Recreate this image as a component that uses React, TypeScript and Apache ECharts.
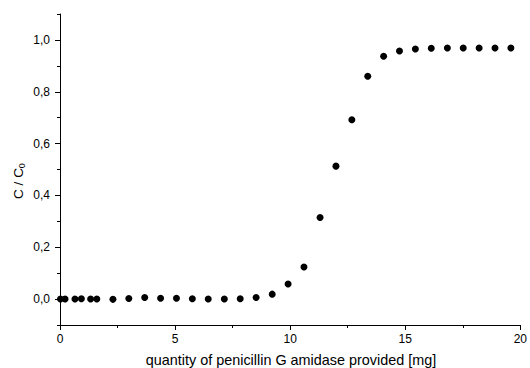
import React, { useEffect, useRef } from "react";
import * as echarts from "echarts";

const xValues = [
  0.02, 0.22, 0.65, 0.93, 1.33, 1.6, 2.3, 2.99, 3.68, 4.37, 5.06, 5.75, 6.44, 7.14, 7.83, 8.52,
  9.22, 9.91, 10.6, 11.3, 11.99, 12.68, 13.37, 14.06, 14.75, 15.44, 16.13, 16.83, 17.52, 18.21,
  18.9, 19.59,
];
const yValues = [
  0.0, 0.0, 0.0, 0.001, 0.0, 0.0, -0.001, 0.002, 0.006, 0.003, 0.003, 0.001, 0.0, 0.0, 0.001,
  0.006, 0.019, 0.058, 0.124, 0.315, 0.513, 0.692, 0.86, 0.937, 0.957, 0.965, 0.968, 0.969, 0.969,
  0.969, 0.969, 0.969,
];
const xTickValues = [0, 5, 10, 15, 20];
const yTickValues = [0, 0.2, 0.4, 0.6, 0.8, 1.0];
const yMinorTickValues = [-0.1, 0.1, 0.3, 0.5, 0.7, 0.9, 1.1];
const xTitle = "quantity of penicillin G amidase provided [mg]";

const FONT = "'Liberation Sans', Arial, sans-serif";

export default function App() {
  const ref = useRef<HTMLDivElement>(null);
  useEffect(() => {
    if (!ref.current) return;
    const chart = echarts.init(ref.current, undefined, { renderer: "svg" });
    chart.setOption({
      animation: false,
      backgroundColor: "#ffffff",
      textStyle: { fontFamily: FONT },
      grid: { left: 60, right: 7, top: 14, bottom: 43, containLabel: false },
      xAxis: {
        type: "value",
        min: 0,
        max: 20,
        interval: 5,
        axisLine: { show: true, onZero: false, lineStyle: { color: "#000", width: 1 } },
        axisTick: { show: true, inside: false, length: 5, lineStyle: { color: "#000" } },
        minorTick: { show: true, splitNumber: 2, length: 3, lineStyle: { color: "#000" } },
        axisLabel: {
          show: true,
          margin: 8,
          fontSize: 12,
          color: "#000",
          fontFamily: FONT,
          customValues: xTickValues,
          formatter: (v: number) => String(v),
        },
        splitLine: { show: false },
        minorSplitLine: { show: false },
      },
      yAxis: [
        {
          type: "value",
          min: -0.1,
          max: 1.1,
          position: "left",
          axisLine: { show: true, onZero: false, lineStyle: { color: "#000", width: 1 } },
          axisTick: {
            show: true,
            length: 5,
            customValues: yTickValues,
            lineStyle: { color: "#000" },
          },
          axisLabel: {
            show: true,
            margin: 10,
            fontSize: 12,
            color: "#000",
            fontFamily: FONT,
            customValues: yTickValues,
            formatter: (v: number) => v.toFixed(1).replace(".", ","),
          },
          splitLine: { show: false },
        },
        {
          type: "value",
          min: -0.1,
          max: 1.1,
          position: "left",
          axisLine: { show: false },
          axisTick: {
            show: true,
            length: 3,
            customValues: yMinorTickValues,
            lineStyle: { color: "#000" },
          },
          axisLabel: { show: false },
          splitLine: { show: false },
        },
      ],
      graphic: [
        {
          type: "text",
          x: 18,
          y: 181,
          rotation: Math.PI / 2,
          style: {
            text: "C / C{sub|0}",
            fontSize: 13.5,
            fontFamily: FONT,
            fill: "#000",
            align: "center",
            verticalAlign: "middle",
            rich: {
              sub: { fontSize: 9, fontFamily: FONT, fill: "#000", verticalAlign: "bottom", padding: [7, 0, 0, 0] },
            },
          },
        },
        {
          type: "text",
          x: 291,
          y: 360,
          style: {
            text: xTitle,
            fontSize: 14.4,
            fontFamily: FONT,
            fill: "#000",
            align: "center",
            verticalAlign: "middle",
          },
        },
      ],
      series: [
        {
          type: "scatter",
          xAxisIndex: 0,
          yAxisIndex: 0,
          symbol: "circle",
          symbolSize: 7,
          itemStyle: { color: "#000", opacity: 1 },
          data: xValues.map((x, i) => [x, yValues[i]]),
        },
      ],
    });
    return () => chart.dispose();
  }, []);
  return (
    <div
      ref={ref}
      style={{ position: "fixed", left: 0, top: 0, width: 530, height: 368, background: "#fff" }}
    />
  );
}
